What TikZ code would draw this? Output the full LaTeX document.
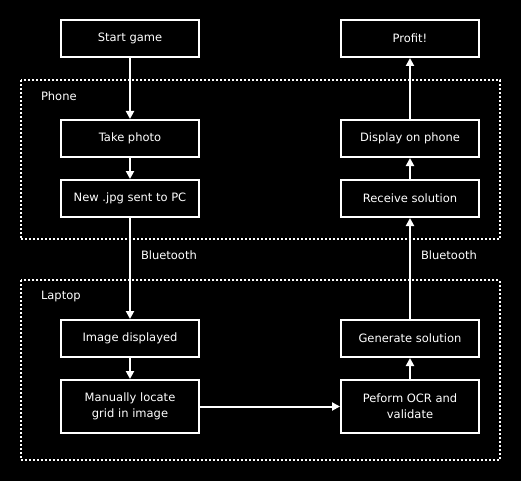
\documentclass[tikz,border=0pt]{standalone}
\usepackage{fontspec}
\setmainfont{DejaVu Sans}
\usetikzlibrary{
	arrows.meta,
	calc,
	positioning
}

\begin{document}
\begin{tikzpicture}[->,>={Triangle[length=8pt,width=8pt]},line width=2pt,white,
        font=\fontsize{11.5}{16}\selectfont,
        main node/.style={rectangle,draw,minimum width=138pt,minimum height=37pt,
          align=center,inner sep=2pt},
        group box/.style={draw,-,dash pattern=on 2pt off 2pt}]
        \useasboundingbox (0,0) rectangle (521pt,-481pt);
        \fill[black] (0,0) rectangle (521pt,-481pt);

        \node[main node] (start) at (130pt,-38.5pt) {Start game};
        \node[main node] (take) [below = 61pt of start] {Take photo};
        \node[main node] (jpg) [below = 21pt of take] {New .jpg sent to PC};
        \node[main node] (image) [below = 101pt of jpg] {Image displayed};
        \node[main node,minimum height=53pt] (locate) [below = 21pt of image] {Manually locate\\grid in image};

        \node[main node] (profit) [right = 140pt of start] {Profit!};
        \node[main node] (display) [below = 61pt of profit] {Display on phone};
        \node[main node] (receive) [below = 21pt of display] {Receive solution};
        \node[main node] (generate) [below = 101pt of receive] {Generate solution};
        \node[main node,minimum height=53pt] (ocr) [below = 21pt of generate] {Peform OCR and\\validate};

        % phone and laptop
        \draw[group box] ($(take.north west)+(-39.5pt,39pt)$) rectangle ($(receive.south east)+(19.7pt,-21.3pt)$);
        \node[anchor=north west,inner sep=0] (phone) at ($(take.north west)+(-20pt,28.3pt)$) {Phone};
        \draw[group box] ($(image.north west)+(-39.5pt,38.7pt)$) rectangle ($(ocr.south east)+(19.7pt,-26pt)$);
        \node[anchor=north west,inner sep=0] (laptop) at ($(image.north west)+(-20pt,29pt)$) {Laptop};

          \draw (start) edge (take);
          \draw (take) edge (jpg);
          \draw (jpg) edge node[pos=0.371,anchor=west,inner sep=0,xshift=10pt]{Bluetooth} (image);
          \draw (image) edge (locate);
          \draw (locate) edge (ocr);

          \draw (ocr) edge (generate);
          \draw (generate) edge node[pos=0.629,anchor=west,inner sep=0,xshift=10pt]{Bluetooth} (receive);
          \draw (receive) edge (display);
          \draw (display) edge (profit);

      \end{tikzpicture}
\end{document}
